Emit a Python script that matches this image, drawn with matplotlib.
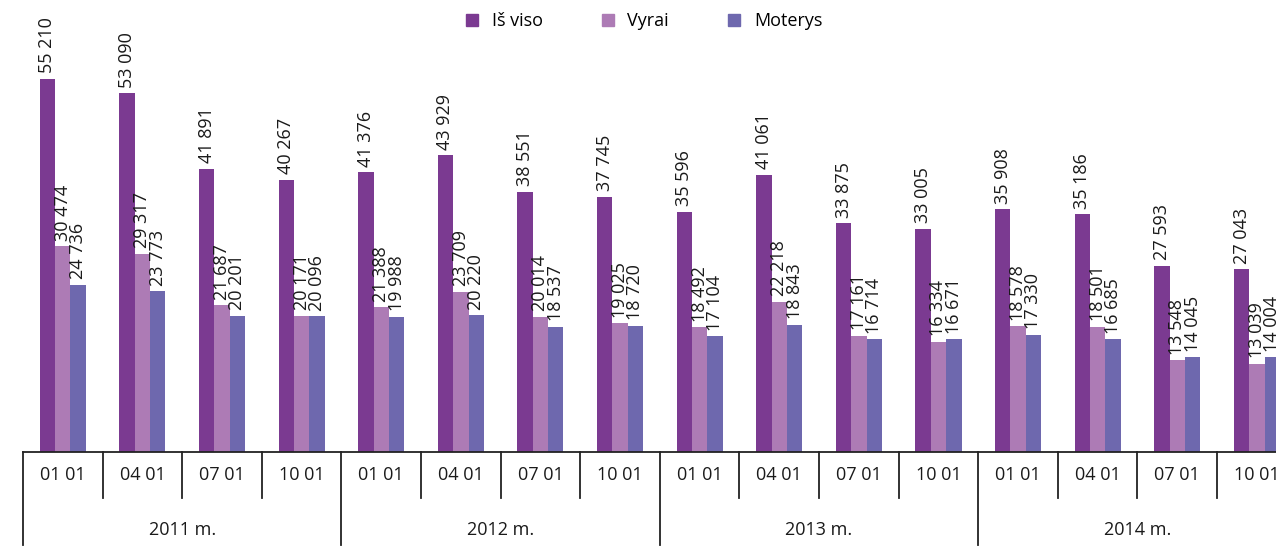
import numpy as np
import matplotlib.pyplot as plt
from matplotlib.lines import Line2D
from matplotlib.transforms import blended_transform_factory

plt.rcParams['font.family'] = ['Open Sans', 'DejaVu Sans']

months = ["01 01", "04 01", "07 01", "10 01"] * 4
years = ["2011 m.", "2012 m.", "2013 m.", "2014 m."]
series = ["Iš viso", "Vyrai", "Moterys"]
total = [55210, 53090, 41891, 40267, 41376, 43929, 38551, 37745,
         35596, 41061, 33875, 33005, 35908, 35186, 27593, 27043]
men = [30474, 29317, 21687, 20171, 21388, 23709, 20014, 19025,
       18492, 22218, 17161, 16334, 18578, 18501, 13548, 13039]
women = [24736, 23773, 20201, 20096, 19988, 20220, 18537, 18720,
         17104, 18843, 16714, 16671, 17330, 16685, 14045, 14004]
colors = ["#7b3a91", "#ad7bb5", "#6e68ae"]

fig = plt.figure(figsize=(12.76, 5.48), dpi=100)
ax = fig.add_axes([0, 96 / 548, 1, 452 / 548])

x = np.arange(len(months))
w = 0.193
for k, (vals, c) in enumerate(zip([total, men, women], colors)):
    pos = x + (k - 1) * w
    ax.bar(pos, vals, width=w, color=c, zorder=2)
    for xp, v in zip(pos, vals):
        s = f"{v:,}".replace(",", " ")
        ax.annotate(s, (xp, v), xytext=(0, 4), textcoords="offset points",
                    rotation=90, ha="center", va="bottom", fontsize=13,
                    color="#1a1a1a")

ax.set_xlim(-0.789, 15.24)
ax.set_ylim(0, 66900)
for sp in ax.spines.values():
    sp.set_visible(False)
ax.set_xticks([])
ax.set_yticks([])

tr = blended_transform_factory(ax.transData, ax.transAxes)
# baseline of the category table, starting at the first slot edge
ax.add_line(Line2D([-0.5, 16], [0, 0], transform=tr, color="#222222",
                   lw=1.3, clip_on=False))
for i in range(len(months) + 1):
    edge = i - 0.5
    bottom = -0.2058 if i % 4 == 0 else -0.1018
    ax.add_line(Line2D([edge, edge], [0, bottom], transform=tr, color="#222222",
                       lw=1.3, clip_on=False))
for i, m in enumerate(months):
    ax.text(i, -0.051, m, transform=tr, ha="center", va="center",
            fontsize=13, color="#1a1a1a", clip_on=False)
for j, yname in enumerate(years):
    ax.text(j * 4 + 1.5, -0.1726, yname, transform=tr, ha="center",
            va="center", fontsize=13, color="#1a1a1a", clip_on=False)

handles = [Line2D([], [], marker="s", ls="", color=c, markersize=8)
           for c in colors]
fig.legend(handles, series, loc="center", bbox_to_anchor=(0.5, 1 - 21 / 548),
           ncol=3, frameon=False, fontsize=13, handletextpad=0.1,
           columnspacing=2.6)

fig.savefig("out.png", dpi=100)
